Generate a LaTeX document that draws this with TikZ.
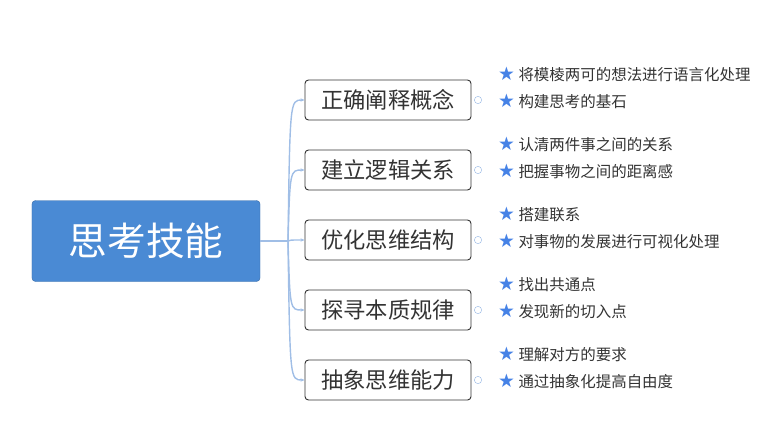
\documentclass[tikz,border=0pt]{standalone}
\usepackage{fontspec}
\setmainfont{Noto Sans CJK SC}
\newfontfamily\symfont{DejaVu Sans}
\usetikzlibrary{arrows.meta, positioning}
\definecolor{rootblue}{RGB}{74, 138, 212}
\definecolor{linkblue}{RGB}{160, 190, 230}
\definecolor{starblue}{RGB}{70, 130, 230}
\definecolor{textdark}{RGB}{51, 51, 51}

\begin{document}
\begin{tikzpicture}[
    x=0.03cm, y=-0.03cm,
    root/.style={rectangle, fill=rootblue, draw=rootblue!80!black, rounded corners=3pt, minimum width=6.84cm, minimum height=2.43cm, text=white, font=\fontsize{33}{33}\selectfont},
    topic/.style={rectangle, draw=textdark, fill=white, rounded corners=3pt, line width=0.8pt, minimum width=4.98cm, minimum height=1.2cm, text=textdark, font=\fontsize{19}{19}\selectfont},
    leaf/.style={anchor=west, inner sep=0pt, text=textdark, font=\fontsize{13.2}{13}\selectfont},
    fold/.style={circle, draw=linkblue, minimum size=0.22cm, inner sep=0pt, path picture={\draw[linkblue] (path picture bounding box.west) ++(0.05,0) -- ++(0.12,0);}},
    link/.style={linkblue, line width=1.2pt, -{Stealth[length=1.2mm,width=1mm]}}
]
\useasboundingbox (0,0) rectangle (768,439);

% Root
\node[root] (skill) at (146,241) {思考技能};
\coordinate (hub) at (288,241);
\draw[linkblue, line width=1.2pt] (skill.east) -- (hub);

% Topics and leaves
\foreach \y/\name/\txt/\ta/\tb in {
    100/concept/正确阐释概念/将模棱两可的想法进行语言化处理/构建思考的基石,
    170/logic/建立逻辑关系/认清两件事之间的关系/把握事物之间的距离感,
    240/struct/优化思维结构/搭建联系/对事物的发展进行可视化处理,
    310/essence/探寻本质规律/找出共通点/发现新的切入点,
    380/abstract/抽象思维能力/理解对方的要求/通过抽象化提高自由度}{
  \node[topic] (\name) at (388,\y) {\txt};
  \draw[link] (hub) .. controls (290,\y) .. (\name.west);
  \node[fold] (\name-fold) at (478,\y) {};
  \node[leaf] (\name-a) at (498,\y-26) {{\symfont\fontsize{16}{16}\selectfont\color{starblue}★}\ \ta};
  \node[leaf] (\name-b) at (498,\y+1) {{\symfont\fontsize{16}{16}\selectfont\color{starblue}★}\ \tb};
}

\end{tikzpicture}
\end{document}
